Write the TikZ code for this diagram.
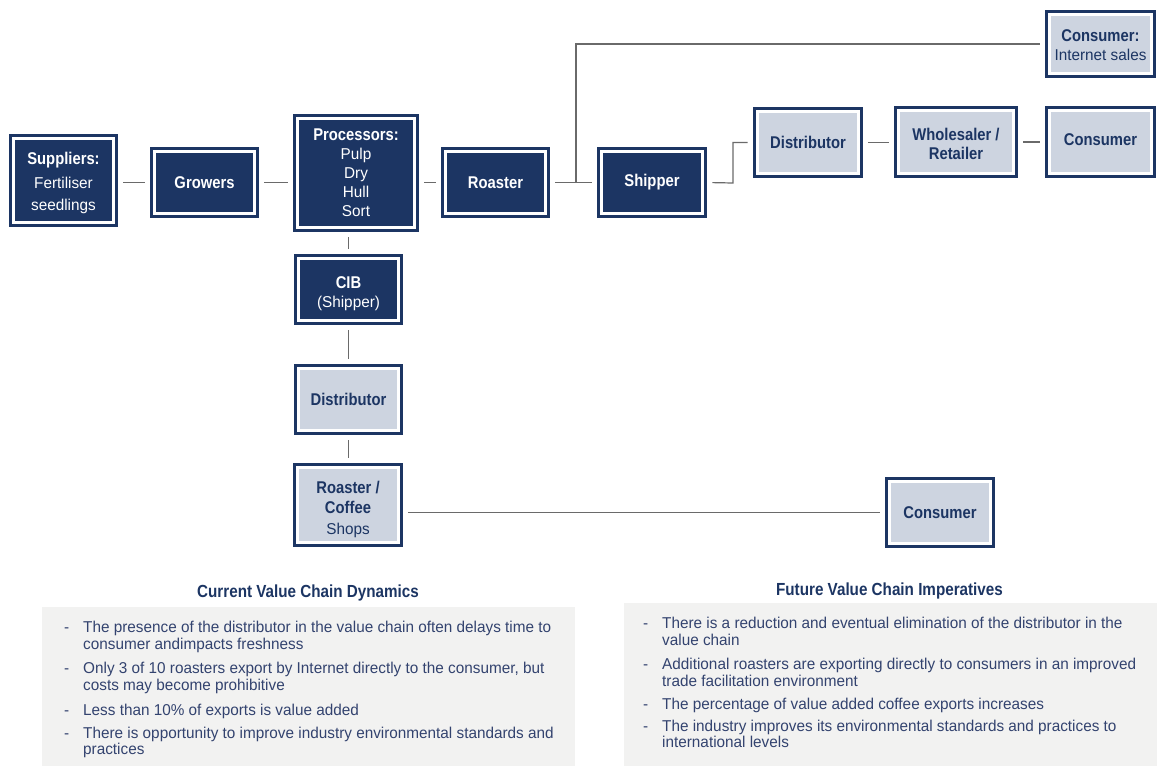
\documentclass[tikz,border=0pt]{standalone}
\usepackage{fontspec}
\setmainfont{Liberation Sans}[FakeStretch=0.975]
\newfontfamily\hdfam{Liberation Sans}[FakeStretch=0.87]
\definecolor{navy}{HTML}{1C3563}
\definecolor{lightfill}{HTML}{CDD4E0}
\definecolor{linegray}{HTML}{6A6A6A}
\definecolor{panelgray}{HTML}{F2F2F1}
\definecolor{bodytext}{HTML}{33436F}
\newcommand\hdr[1]{{\hdfam\bfseries\fontsize{17}{19}\selectfont #1}}
\newcommand\upr[1]{\rule{0pt}{#1pt}}
\newcommand\dnr[1]{\rule[-#1pt]{0pt}{#1pt}}
\newcommand\bul{\llap{-\hspace{14pt}}}
\newcommand\twol[2]{\begin{tabular}[t]{@{}l@{}}#1\\#2\end{tabular}}
\newcommand\onel[1]{\begin{tabular}[t]{@{}l@{}}#1\end{tabular}}
\tikzset{
  cbox/.style={draw=navy, line width=2.8pt, fill=#1, inner sep=0pt, align=center,
    font=\fontsize{15.7}{19}\selectfont,
    path picture={\draw[white, line width=9pt] (path picture bounding box.south west) rectangle (path picture bounding box.north east);}},
  dark/.style={cbox=navy, text=white},
  light/.style={cbox=lightfill, text=navy},
  sz/.style 2 args={minimum width=#1pt-2.8pt, minimum height=#2pt-2.8pt},
  conn/.style={draw=linegray, line width=1.2pt, shorten <=5.4pt, shorten >=5.4pt},
  connend/.style={draw=linegray, line width=1.2pt, shorten >=5.4pt},
  item/.style={inner sep=0pt, anchor=base west, text=bodytext},
  ttl/.style={inner sep=0pt, anchor=base, text=navy, font=\hdfam\bfseries\fontsize{17.5}{20}\selectfont},
}
\begin{document}
\begin{tikzpicture}[x=1pt,y=-1pt]
\useasboundingbox (0,0) rectangle (1157,766);
% panels
\fill[panelgray] (42,607) rectangle (575,766);
\fill[panelgray] (624,603) rectangle (1157,766);
% boxes
\node[dark, sz={109}{93}, font=\fontsize{15.7}{22}\selectfont] (sup) at (63.5,180.5) {\upr{16.5}\hdr{Suppliers:}\\[2pt]Fertiliser\\seedlings};
\node[dark, sz={109}{71}] (grow) at (204.5,182.5) {\hdr{Growers}};
\node[dark, sz={126}{118}] (proc) at (356,173) {\hdr{Processors:}\\Pulp\\Dry\\Hull\\Sort};
\node[dark, sz={109}{71}] (roast) at (495.5,182.5) {\hdr{Roaster}};
\node[dark, sz={110}{71}] (ship) at (652,182.5) {\hdr{Shipper}};
\node[light, sz={110}{71}] (dist1) at (808,142.5) {\hdr{Distributor}};
\node[light, sz={124}{72}] (whole) at (956,142) {\upr{17}\hdr{Wholesaler /}\\\hdr{Retailer}};
\node[light, sz={111}{72}] (cons1) at (1100.5,142) {\dnr{4}\hdr{Consumer}};
\node[light, sz={111}{68}] (consI) at (1100.5,44) {\upr{15}\hdr{Consumer:}\\Internet sales};
\node[dark, sz={109}{71}] (cib) at (348.5,289.5) {\upr{19.5}\hdr{CIB}\\(Shipper)};
\node[light, sz={109}{71}] (dist2) at (348.5,399.5) {\hdr{Distributor}};
\node[light, sz={110}{84}, font=\fontsize{15.7}{20.5}\selectfont] (rshop) at (348,505) {\upr{21}\hdr{Roaster /}\\\hdr{Coffee}\\Shops};
\node[light, sz={110}{71}] (cons2) at (940,512.5) {\hdr{Consumer}};
% junctions
\coordinate (j1) at (576,183);
\coordinate (j2) at (733,183);
% connectors
\draw[conn] (sup.east |- grow.west) -- (grow.west);
\draw[conn] (grow.east) -- (grow.east -| proc.west);
\draw[conn] (proc.east |- roast.west) -- (roast.west);
\draw[conn] (roast.east) -- (ship.west);
\draw[connend] (j1) |- (consI.west);
\draw[conn] (ship.east) -- (j2) |- (dist1.west);
\draw[conn] (dist1.east) -- (dist1.east -| whole.west);
\draw[conn] (whole.east) -- (whole.east -| cons1.west);
\draw[conn] (cib.north |- proc.south) -- (cib.north);
\draw[conn] (cib.south) -- (dist2.north);
\draw[conn] (dist2.south) -- (dist2.south |- rshop.north);
\draw[conn] (rshop.east |- cons2.west) -- (cons2.west);
% titles
\node[ttl] (t1) at (308,597) {Current Value Chain Dynamics};
\node[ttl] (t2) at (889.5,595) {Future Value Chain Imperatives};
% left items
\node[item, font=\fontsize{15.7}{17.5}\selectfont] (l1) at (83,632) {\twol{\bul The presence of the distributor in the value chain often delays time to}{consumer andimpacts freshness}};
\node[item, font=\fontsize{15.7}{17.5}\selectfont] (l2) at (83,673) {\twol{\bul Only 3 of 10 roasters export by Internet directly to the consumer, but}{costs may become prohibitive}};
\node[item, font=\fontsize{15.7}{17.5}\selectfont] (l3) at (83,715.5) {\onel{\bul Less than 10\% of exports is value added}};
\node[item, font=\fontsize{15.7}{15}\selectfont] (l4) at (83,738.3) {\twol{\bul There is opportunity to improve industry environmental standards and}{practices}};
% right items
\node[item, font=\fontsize{15.7}{17}\selectfont] (r1) at (662,628.3) {\twol{\bul There is a reduction and eventual elimination of the distributor in the}{value chain}};
\node[item, font=\fontsize{15.7}{17.5}\selectfont] (r2) at (662,669) {\twol{\bul Additional roasters are exporting directly to consumers in an improved}{trade facilitation environment}};
\node[item, font=\fontsize{15.7}{17.5}\selectfont] (r3) at (662,709) {\onel{\bul The percentage of value added coffee exports increases}};
\node[item, font=\fontsize{15.7}{15}\selectfont] (r4) at (662,731.5) {\twol{\bul The industry improves its environmental standards and practices to}{international levels}};
\end{tikzpicture}
\end{document}
